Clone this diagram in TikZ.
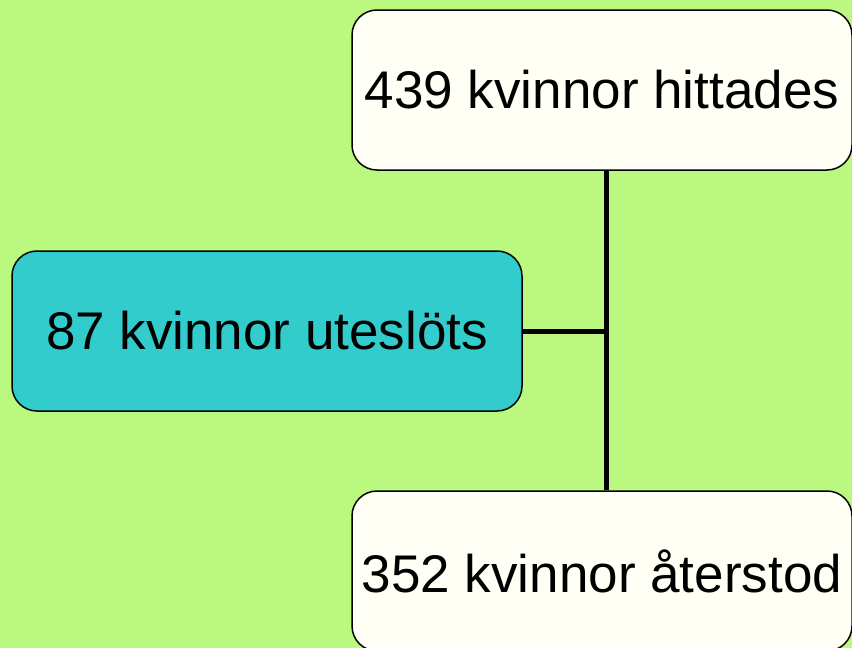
\documentclass[tikz,border=0pt]{standalone}
\usepackage{fontspec}
\setmainfont{Liberation Sans}
\definecolor{bggreen}{HTML}{BBF880}
\definecolor{boxcyan}{HTML}{33CCCC}
\definecolor{boxwhite}{HTML}{FFFFF5}
\begin{document}
\begin{tikzpicture}[x=1pt,y=-1pt,
  box/.style={draw=black, line width=1.5pt, rounded corners=25pt, minimum width=500pt, minimum height=160pt, inner sep=0pt, font=\fontsize{53}{60}\selectfont, text=black},
  conn/.style={draw=black, line width=5pt}]
\clip (0,0) rectangle (852,648);
\fill[bggreen] (0,0) rectangle (852,648);
\node[box, fill=boxwhite] (top) at (602,90) {439 kvinnor hittades};
\node[box, fill=boxcyan, minimum width=510pt] (left) at (267,331) {87 kvinnor uteslöts};
\node[box, fill=boxwhite] (bot) at (602,571) {352 kvinnor återstod};
\coordinate (j) at (606,331);
\draw[conn] (top.south -| j) -- (bot.north -| j);
\draw[conn] (left.east) -- (j);
\end{tikzpicture}
\end{document}
